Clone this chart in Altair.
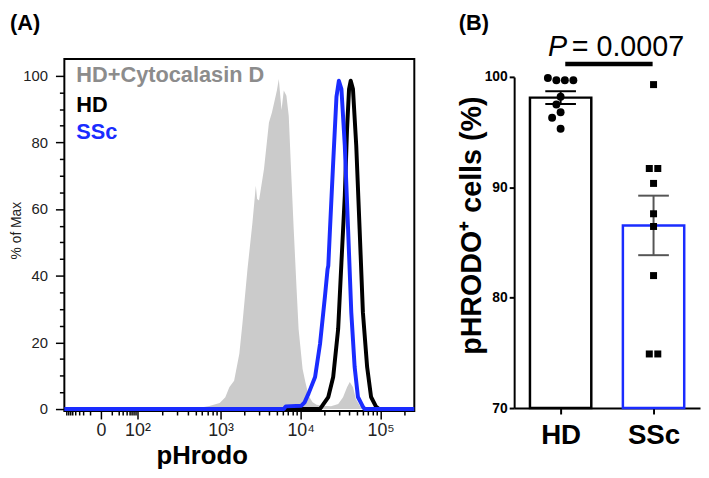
import altair as alt
import pandas as pd
import math

FONT = "Liberation Sans"
BLUE = "#1a2cff"
GRAY_FILL = "#cbcbcb"
GRAY_TEXT = "#8c8c8c"

# ---------------- Panel A: flow cytometry histograms (x in display decades) ----------------
CYTO_X = [1.05, 2.70, 2.74, 2.86, 2.99, 3.06, 3.11, 3.17, 3.235, 3.275, 3.337, 3.399, 3.441,
          3.457, 3.481, 3.543, 3.605, 3.642, 3.704, 3.728, 3.762, 3.790, 3.823, 3.852, 3.877,
          3.914, 3.95, 3.975, 4.025, 4.06, 4.10, 4.15, 4.20, 4.28, 4.38, 4.47, 4.53, 4.58,
          4.614, 4.655, 4.69, 4.74, 4.82, 5.42]
CYTO_Y = [0, 0, 0.4, 0.9, 1.8, 3.5, 6.5, 8.5, 16.6, 26, 42, 56, 67,
          63, 62.6, 72, 86, 89, 95.6, 99, 89.7, 95.6, 94, 88, 74,
          54, 36, 24, 12, 8, 4, 2, 1.3, 1.0, 0.8, 1.5, 3.5, 6.5,
          8.1, 6.5, 3, 1, 0, 0]

HD_X = [1.05, 4.24, 4.263, 4.346, 4.407, 4.469, 4.510, 4.552, 4.580, 4.605, 4.626, 4.654,
        4.695, 4.737, 4.778, 4.831, 4.880, 4.942, 4.98, 5.42]
HD_Y = [0, 0, 0.7, 3.6, 9.6, 24, 44, 64, 84, 96, 98.5, 96,
        79, 54, 29, 12.6, 3.6, 0.7, 0, 0]

SSC_X = [1.05, 3.79, 3.815, 4.01, 4.05, 4.10, 4.181, 4.243, 4.305, 4.337, 4.346, 4.367,
         4.407, 4.448, 4.478, 4.510, 4.552, 4.593, 4.633, 4.675, 4.716, 4.778, 4.80, 5.42]
SSC_Y = [0, 0, 0.8, 1.0, 2, 4.7, 9.6, 19.6, 34, 42, 43, 54,
         74, 93.7, 98.5, 96, 79, 54, 29, 12.6, 3.6, 0.7, 0, 0]

LEGEND_LABELS = ["HD+Cytocalasin D", "HD", "SSc"]
LEGEND_COLORS = [GRAY_TEXT, "black", BLUE]

# axis tick positions of the biexponential display (decade units)
ZERO_POS = 1.506
TEN2_POS = 1.963
MAJOR_TICKS = {ZERO_POS: "0", TEN2_POS: "10²", 3.0: "10³", 4.0: "10⁴", 5.0: "10⁵"}

# ---------------- Panel B: % pHRODO+ cells ----------------
GROUPS = ["HD", "SSc"]
HD_VALUES = [99.9, 99.7, 99.7, 99.7, 98.2, 97.5, 96.8, 96.3, 95.3]
SSC_VALUES = [99.3, 91.7, 91.7, 90.35, 87.6, 86.45, 82.0, 74.9, 74.9]
P_VALUE = "0.0007"

# ---------------- layout ----------------
WA, HA = 354, 356
WB, HB = 188, 353
XA_DOM = [1.05, 5.42]
YA_DOM = [-0.6, 105]
XB_DOM = [0.5, 2.5]
YB_DOM = [70, 100]

# ---- minor tick positions on the biexponential axis ----
x_ticks = []
for v in range(20, 100, 10):
    f = math.log10(v) - 1
    x_ticks.append(round(ZERO_POS - f * (TEN2_POS - ZERO_POS), 4))
    x_ticks.append(round(ZERO_POS + f * (TEN2_POS - ZERO_POS), 4))
for v in range(200, 1000, 100):
    x_ticks.append(round(TEN2_POS + (math.log10(v) - 2) * (3 - TEN2_POS), 4))
for dec in (3, 4):
    for k in range(2, 10):
        x_ticks.append(round(dec + math.log10(k), 4))
x_ticks.append(round(5 + math.log10(2), 4))
x_ticks += list(MAJOR_TICKS.keys())
x_ticks = sorted(set(x_ticks))
major_list = ",".join(repr(float(k)) for k in MAJOR_TICKS)
label_expr = ""
for k, lab in MAJOR_TICKS.items():
    label_expr += f"datum.value == {float(k)!r} ? '{lab}' : "
label_expr += "''"

x_axis_a = alt.Axis(values=x_ticks, labelExpr=label_expr, title="pHrodo", grid=False, domain=False,
                    tickColor="black", tickWidth=1.5,
                    tickSize={"condition": {"test": f"indexof([{major_list}], datum.value) >= 0", "value": 8}, "value": 4},
                    labelFontSize=18, labelColor="#222", labelPadding=3, labelFlush=False, labelOverlap=False,
                    titleFontSize=26, titleFontWeight="bold", titleX=139, titleY=53,
                    titleBaseline="alphabetic", titleAlign="center", titleColor="black")
y_axis_a = alt.Axis(values=list(range(0, 101, 5)), labelExpr="datum.value % 20 == 0 ? datum.label : ''",
                    title="% of Max", grid=False, domain=False, tickColor="black", tickWidth=1.5,
                    tickSize={"condition": {"test": "datum.value % 20 == 0", "value": 9}, "value": 5},
                    labelFontSize=15, labelColor="#222", labelPadding=8, labelOverlap=False, labelFlush=False,
                    titleFontSize=14, titleFontWeight="normal", titleColor="#222",
                    titleX=-48, titleY=173, titleAngle=270, titleAlign="center", titleBaseline="middle")

xs_a = alt.Scale(domain=XA_DOM, nice=False, zero=False)
ys_a = alt.Scale(domain=YA_DOM, nice=False, zero=False)


def xa():
    return alt.X("d:Q", scale=xs_a, axis=x_axis_a)


def ya():
    return alt.Y("pct:Q", scale=ys_a, axis=y_axis_a)


cyto_df = pd.DataFrame({"d": CYTO_X, "pct": CYTO_Y})
hd_df = pd.DataFrame({"d": HD_X, "pct": HD_Y})
ssc_df = pd.DataFrame({"d": SSC_X, "pct": SSC_Y})
leg_df = pd.DataFrame({"label": LEGEND_LABELS, "col": LEGEND_COLORS,
                       "d": [1.20] * 3, "pct": [100.2, 91.2, 83.2]})
tag_a_df = pd.DataFrame({"label": ["(A)"], "d": [0.371], "pct": [113.7]})

area = alt.Chart(cyto_df).mark_area(color=GRAY_FILL, interpolate="linear").encode(x=xa(), y=ya())
line_hd = alt.Chart(hd_df).mark_line(color="black", strokeWidth=4, strokeJoin="round").encode(x=xa(), y=ya())
line_ssc = alt.Chart(ssc_df).mark_line(color=BLUE, strokeWidth=4, strokeJoin="round").encode(x=xa(), y=ya())
leg = alt.Chart(leg_df).mark_text(align="left", baseline="middle", fontSize=22, fontWeight="bold").encode(
    x=xa(), y=ya(), text="label:N", color=alt.Color("col:N", scale=None))
tag_a = alt.Chart(tag_a_df).mark_text(align="left", baseline="alphabetic", fontSize=22, fontWeight="bold",
                                      color="black").encode(x=xa(), y=ya(), text="label:N")

panel_a = alt.layer(area, line_hd, line_ssc, leg, tag_a).properties(
    width=WA, height=HA,
    view=alt.ViewBackground(stroke="black", strokeWidth=2),
)

# ---------------- Panel B ----------------
PX_PER_X = WB / (XB_DOM[1] - XB_DOM[0])
PX_PER_Y = (HB - 18) / (YB_DOM[1] - YB_DOM[0])


def swarm(values, diam=8.0, step=4.3, tol=0.3):
    """Simple beeswarm offsets (in x data units)."""
    order = sorted(range(len(values)), key=lambda i: -values[i])
    offs = [0.0] * len(values)
    placed = []
    i = 0
    while i < len(order):
        j = i
        while j + 1 < len(order) and values[order[i]] - values[order[j + 1]] < tol:
            j += 1
        row = order[i:j + 1]
        if len(row) > 1:
            m = len(row)
            for k, idx in enumerate(row):
                offs[idx] = (k - (m - 1) / 2) * 2 * step
                placed.append((offs[idx], values[idx] * PX_PER_Y))
        else:
            idx = row[0]
            yv = values[idx] * PX_PER_Y
            cands = [0.0]
            for k in range(1, 8):
                cands += [-k * step, k * step]
            for c in cands:
                if all((c - px) ** 2 + (yv - py) ** 2 >= diam ** 2 for px, py in placed):
                    offs[idx] = c
                    break
            placed.append((offs[idx], yv))
        i = j + 1
    return [o / PX_PER_X for o in offs]


pts = pd.DataFrame({
    "group": ["HD"] * len(HD_VALUES) + ["SSc"] * len(SSC_VALUES),
    "value": HD_VALUES + SSC_VALUES,
    "gx": [1] * len(HD_VALUES) + [2] * len(SSC_VALUES),
    "off": swarm(HD_VALUES) + swarm(SSC_VALUES),
})

xs_b = alt.Scale(domain=XB_DOM, nice=False, zero=False)
ys_b = alt.Scale(domain=YB_DOM, range=[HB, 18], nice=False, zero=False)

x_axis_b = alt.Axis(values=[1, 2], labelExpr="datum.value == 1 ? 'HD' : datum.value == 2 ? 'SSc' : ''",
                    title=None, grid=False, domainColor="black", domainWidth=2, tickColor="black",
                    tickWidth=2, tickSize=6, labelFontSize=28, labelFontWeight="bold", labelColor="black",
                    labelPadding=8, labelFlush=False)
y_axis_b = alt.Axis(values=[70, 80, 90, 100], title="pHRODO⁺ cells (%)", grid=False, domainColor="black",
                    domainWidth=2, tickColor="black", tickWidth=2, tickSize=5, labelFontSize=14,
                    labelFontWeight="bold", labelColor="black", labelPadding=2,
                    titleFontSize=29, titleFontWeight="bold", titleColor="black",
                    titleX=-43, titleY=168, titleAngle=270, titleAlign="center", titleBaseline="middle")

color_b = alt.Color("group:N", scale=alt.Scale(domain=GROUPS, range=["black", BLUE]), legend=None)

base = alt.Chart(pts)
agg = base.transform_aggregate(
    mean="mean(value)", sem="stderr(value)", groupby=["group", "gx"]
).transform_calculate(
    x1="datum.gx - 0.33", x2="datum.gx + 0.33", lo="datum.mean - datum.sem",
    hi="datum.mean + datum.sem", c1="datum.gx - 0.165", c2="datum.gx + 0.165"
)

bars = agg.mark_bar(fill="white", strokeWidth=2.5).encode(
    x=alt.X("x1:Q", scale=xs_b, axis=x_axis_b), x2="x2:Q",
    y=alt.Y("mean:Q", scale=ys_b, axis=y_axis_b), y2=alt.datum(70),
    stroke=color_b)

err_color = alt.Color("group:N", scale=alt.Scale(domain=GROUPS, range=["black", "#555555"]), legend=None)
err_v = agg.mark_rule(strokeWidth=2).encode(
    x=alt.X("gx:Q", scale=xs_b, axis=x_axis_b), y=alt.Y("lo:Q", scale=ys_b, axis=y_axis_b), y2="hi:Q",
    color=err_color)
caps = agg.transform_fold(["lo", "hi"], as_=["which", "yv"]).mark_rule(strokeWidth=2).encode(
    x=alt.X("c1:Q", scale=xs_b, axis=x_axis_b), x2="c2:Q",
    y=alt.Y("yv:Q", scale=ys_b, axis=y_axis_b), color=err_color)

dots = base.transform_calculate(xp="datum.gx + datum.off").mark_point(filled=True, opacity=1).encode(
    x=alt.X("xp:Q", scale=xs_b, axis=x_axis_b), y=alt.Y("value:Q", scale=ys_b, axis=y_axis_b),
    shape=alt.Shape("group:N", scale=alt.Scale(domain=GROUPS, range=["circle", "square"]), legend=None),
    size=alt.Size("group:N", scale=alt.Scale(domain=GROUPS, range=[64, 50]), legend=None),
    color=alt.value("black"))

sig_df = pd.DataFrame({"x1": [1.05], "x2": [1.99], "yv": [101.16]})
sig = alt.Chart(sig_df).mark_rule(strokeWidth=4.5, color="black").encode(
    x=alt.X("x1:Q", scale=xs_b, axis=x_axis_b), x2="x2:Q", y=alt.Y("yv:Q", scale=ys_b, axis=y_axis_b))

ptxt_df = pd.DataFrame({"t": ["P", "= " + P_VALUE, "(B)"], "x": [0.865, 1.12, -0.096],
                        "yv": [101.9, 101.9, 104.24]})
p_italic = alt.Chart(ptxt_df.iloc[[0]]).mark_text(align="left", baseline="alphabetic", fontSize=29,
                                                  fontStyle="italic", color="black").encode(
    x=alt.X("x:Q", scale=xs_b, axis=x_axis_b), y=alt.Y("yv:Q", scale=ys_b, axis=y_axis_b), text="t:N")
p_rest = alt.Chart(ptxt_df.iloc[[1]]).mark_text(align="left", baseline="alphabetic", fontSize=29,
                                                color="black").encode(
    x=alt.X("x:Q", scale=xs_b, axis=x_axis_b), y=alt.Y("yv:Q", scale=ys_b, axis=y_axis_b), text="t:N")
tag_b = alt.Chart(ptxt_df.iloc[[2]]).mark_text(align="left", baseline="alphabetic", fontSize=22,
                                               fontWeight="bold", color="black").encode(
    x=alt.X("x:Q", scale=xs_b, axis=x_axis_b), y=alt.Y("yv:Q", scale=ys_b, axis=y_axis_b), text="t:N")

panel_b = alt.layer(bars, err_v, caps, dots, sig, p_italic, p_rest, tag_b).properties(
    width=WB, height=HB,
    view=alt.ViewBackground(stroke="transparent"),
)

chart = alt.hconcat(panel_a, panel_b, spacing=101, bounds="flush").properties(
    padding={"left": 0, "top": 0, "right": 0, "bottom": 0}
).configure(font=FONT).configure_view(stroke="transparent")

chart.save("out.html", embed_options={"renderer": "svg", "actions": False})
